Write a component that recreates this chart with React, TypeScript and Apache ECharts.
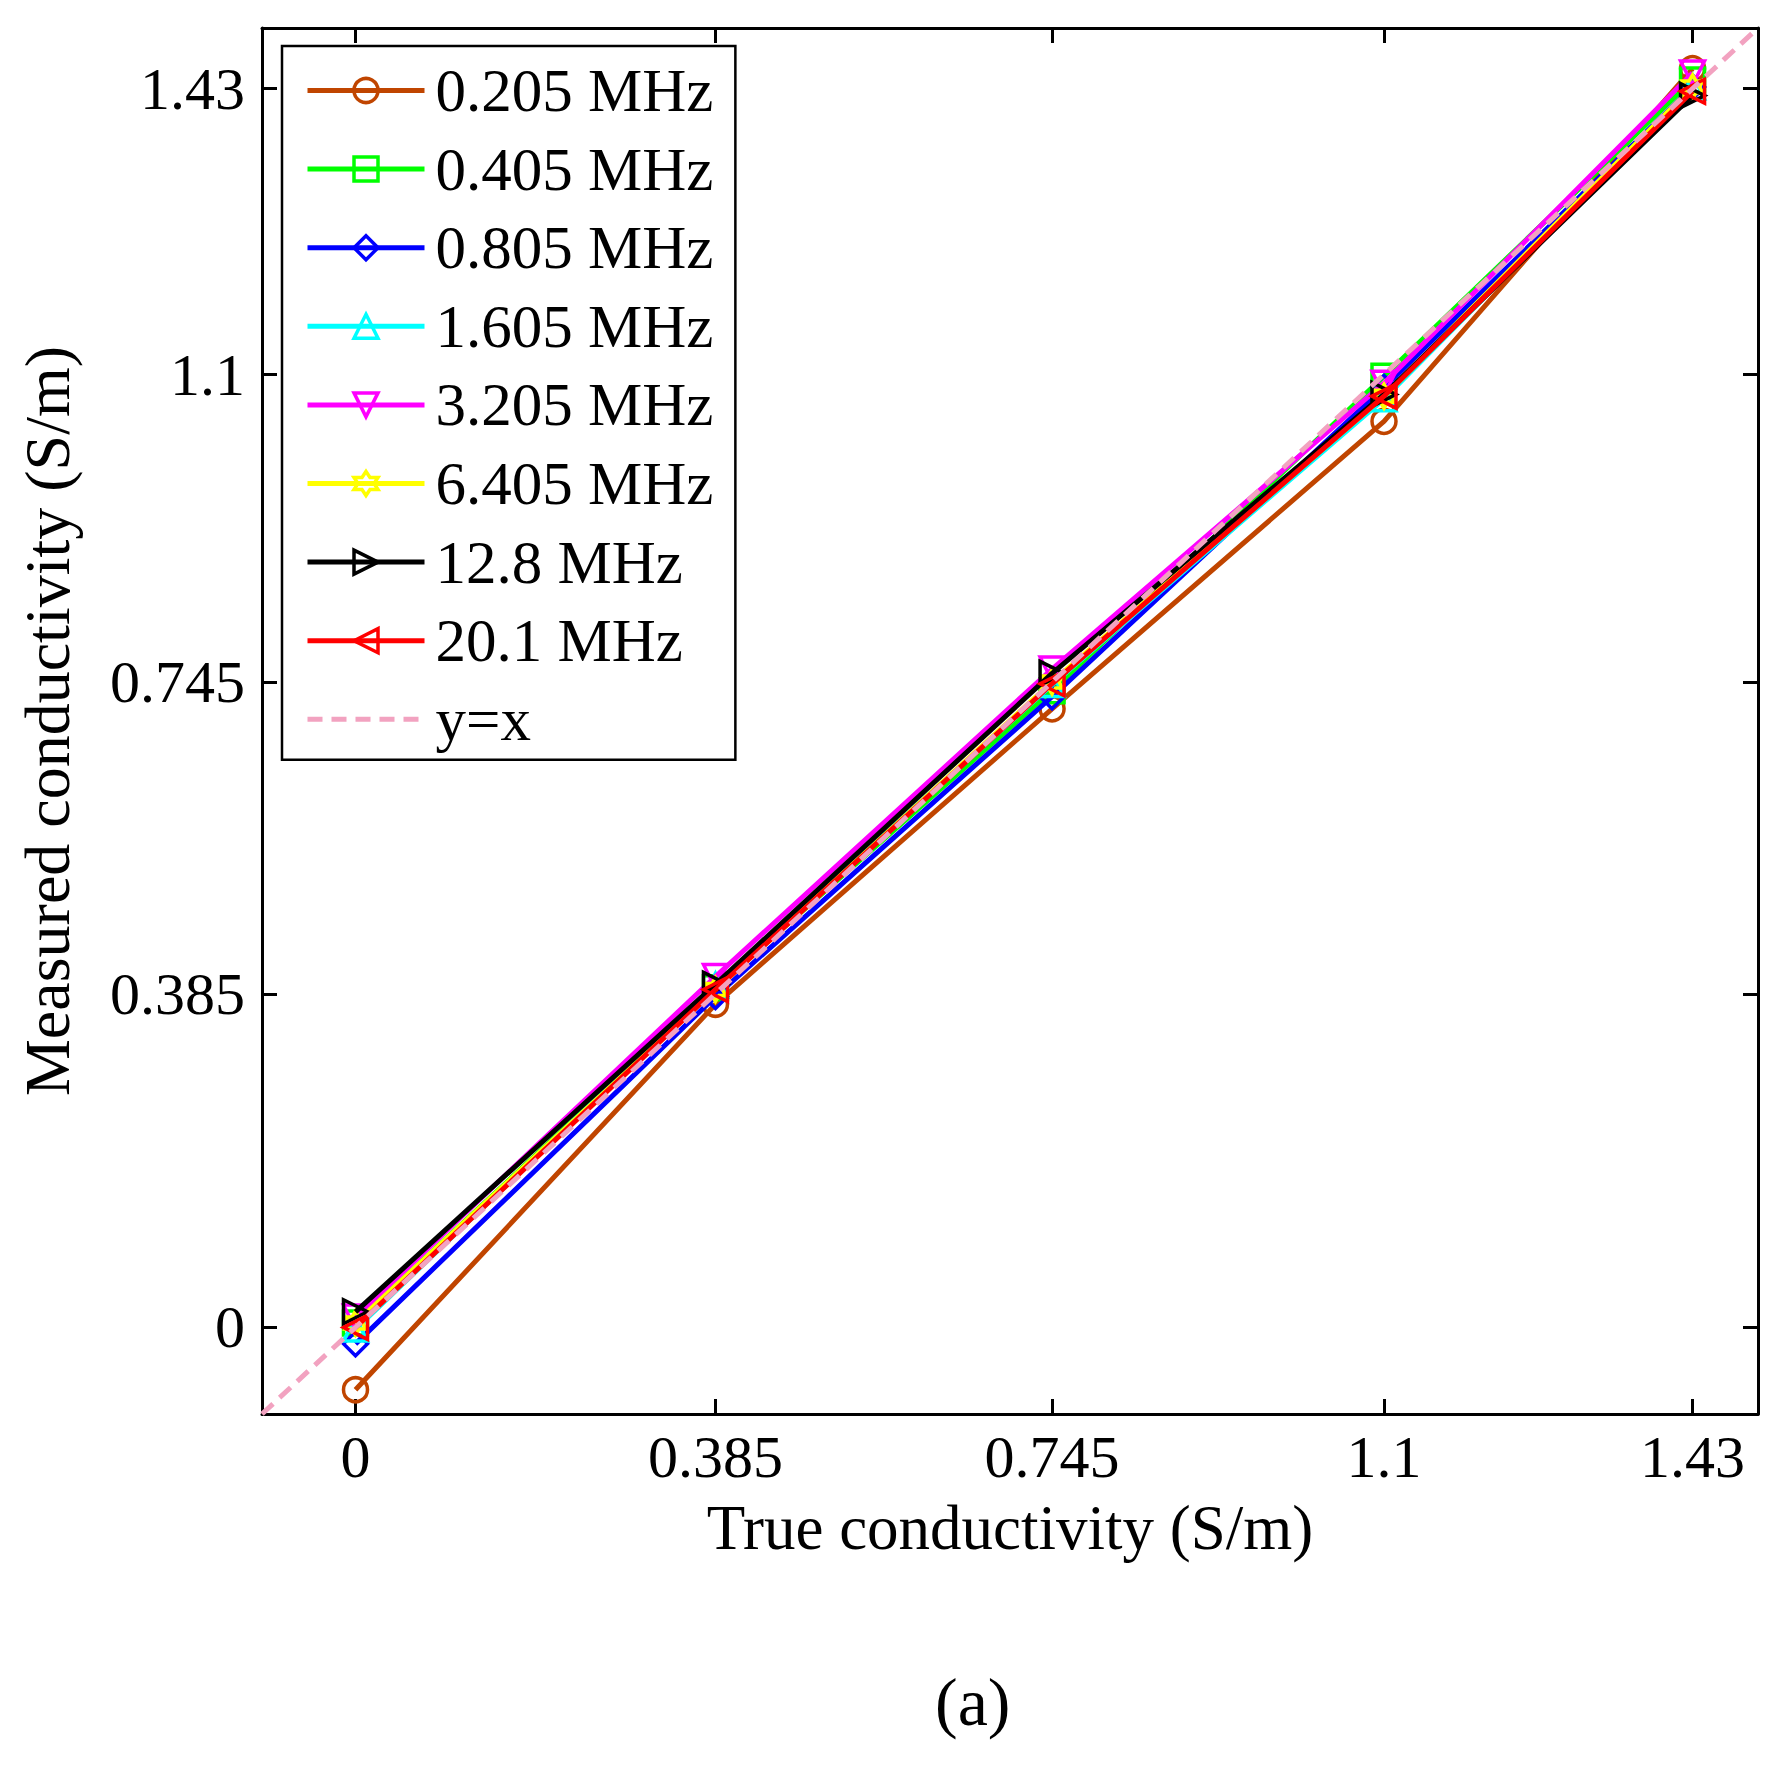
import React, { useEffect, useRef } from 'react';
import * as echarts from 'echarts';

// ---- data ----
const trueConductivity = [0, 0.385, 0.745, 1.1, 1.43];
const tickValues = [0, 0.385, 0.745, 1.1, 1.43];
const axisMin = -0.1;
const axisMax = 1.5;

const seriesNames = ['0.205 MHz', '0.405 MHz', '0.805 MHz', '1.605 MHz', '3.205 MHz', '6.405 MHz', '12.8 MHz', '20.1 MHz'];
const measured0205 = [-0.072, 0.373, 0.714, 1.046, 1.453];
const measured0405 = [0.005, 0.392, 0.735, 1.098, 1.44];
const measured0805 = [-0.019, 0.382, 0.728, 1.085, 1.432];
const measured1605 = [-0.002, 0.395, 0.742, 1.072, 1.432];
const measured3205 = [0.012, 0.405, 0.76, 1.09, 1.448];
const measured6405 = [0.005, 0.39, 0.745, 1.075, 1.432];
const measured128 = [0.018, 0.396, 0.755, 1.077, 1.422];
const measured201 = [0.0, 0.39, 0.743, 1.075, 1.427];
const identityName = 'y=x';
const identityLine = [[-0.1, -0.1], [1.5, 1.5]];

const measuredSets = [measured0205, measured0405, measured0805, measured1605, measured3205, measured6405, measured128, measured201];

// ---- styles ----
const colors = ['#C04500', '#00FF00', '#0000FF', '#00FFFF', '#FF00FF', '#FFFF00', '#000000', '#FF0000'];
const hexagram = 'path://M100 0 L128.9 50 L186.6 50 L157.7 100 L186.6 150 L128.9 150 L100 200 L71.1 150 L13.4 150 L42.3 100 L13.4 50 L71.1 50 Z';
const symbols = ['circle', 'rect', 'diamond', 'triangle', 'triangle', hexagram, 'triangle', 'triangle'];
const rotations = [0, 0, 0, 0, 180, 0, -90, 90];
const FONT = '"Liberation Serif", "Times New Roman", serif';

export default function App() {
  const ref = useRef<HTMLDivElement>(null);
  useEffect(() => {
    if (!ref.current) return;
    const chart = echarts.init(ref.current, null, { renderer: 'svg' });

    const lineSeries: any[] = seriesNames.map((name, i) => ({
      name,
      type: 'line',
      data: trueConductivity.map((x, j) => [x, measuredSets[i][j]]),
      symbol: symbols[i],
      symbolRotate: rotations[i],
      symbolSize: 24,
      symbolKeepAspect: i === 5,
      showAllSymbol: true,
      lineStyle: { color: colors[i], width: 5 },
      itemStyle: { color: 'rgba(255,255,255,0)', borderColor: colors[i], borderWidth: 3.5 },
      emphasis: { disabled: true },
      z: 2 + i,
    }));

    lineSeries.push({
      name: identityName,
      type: 'line',
      data: identityLine,
      symbol: 'none',
      lineStyle: { color: '#F2A2C0', width: 5, type: [15, 9] },
      itemStyle: { color: 'rgba(255,255,255,0)', borderWidth: 0 },
      emphasis: { disabled: true },
      z: 20,
    });

    const baseAxis = {
      type: 'value',
      min: axisMin,
      max: axisMax,
      splitLine: { show: false },
      axisLine: { show: true, onZero: false, lineStyle: { color: '#000', width: 3 } },
      axisTick: { show: true, inside: true, length: 15, lineStyle: { color: '#000', width: 3 }, customValues: tickValues },
    };

    chart.setOption({
      animation: false,
      backgroundColor: '#fff',
      grid: { left: 262, top: 28, width: 1496, height: 1386, containLabel: false },
      legend: {
        orient: 'vertical',
        left: 282,
        top: 46,
        data: [...seriesNames, identityName],
        itemWidth: 117,
        itemHeight: 30,
        itemGap: 17.6,
        padding: [14, 22, 10, 23],
        backgroundColor: '#fff',
        borderColor: '#000',
        borderWidth: 2.5,
        borderRadius: 0,
        selectedMode: false,
        lineStyle: { width: 5 },
        itemStyle: { borderWidth: 3.5 },
        textStyle: { fontFamily: FONT, fontSize: 61, color: '#000', lineHeight: 60, padding: [0, 0, 0, 6] },
        z: 30,
      },
      xAxis: [
        {
          ...baseAxis,
          position: 'bottom',
          name: 'True conductivity (S/m)',
          nameLocation: 'middle',
          nameGap: 82,
          nameTextStyle: { fontFamily: FONT, fontSize: 63, color: '#000' },
          axisLabel: { show: true, customValues: tickValues, margin: 13, fontFamily: FONT, fontSize: 60, color: '#000' },
        },
        {
          ...baseAxis,
          position: 'top',
          axisLabel: { show: false },
        },
      ],
      yAxis: [
        {
          ...baseAxis,
          position: 'left',
          name: 'Measured conductivity (S/m)',
          nameLocation: 'middle',
          nameGap: 183,
          nameTextStyle: { fontFamily: FONT, fontSize: 64, color: '#000' },
          axisLabel: { show: true, customValues: tickValues, margin: 17, fontFamily: FONT, fontSize: 60, color: '#000' },
        },
        {
          ...baseAxis,
          position: 'right',
          axisLabel: { show: false },
        },
      ],
      graphic: [
        {
          type: 'text',
          left: 977 - 42,
          top: 1668,
          style: { text: '(a)', fontFamily: FONT, fontSize: 68, fill: '#000' },
        },
      ],
      series: lineSeries,
    });

    return () => chart.dispose();
  }, []);

  return <div ref={ref} style={{ position: 'fixed', left: 0, top: 0, width: 1787, height: 1766 }} />;
}
